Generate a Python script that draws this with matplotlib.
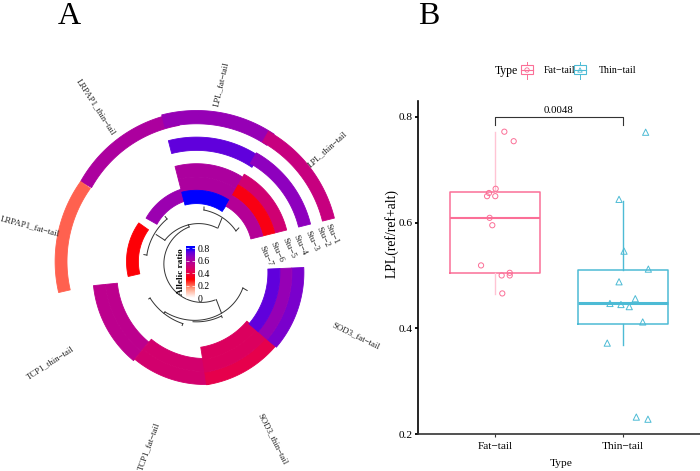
import numpy as np
import matplotlib
matplotlib.use("Agg")
import matplotlib.pyplot as plt
from matplotlib.colors import LinearSegmentedColormap
from matplotlib.patches import Rectangle

plt.rcParams["font.family"] = ["Liberation Serif", "DejaVu Serif"]

W, H = 700, 471

# panel A data
sectors = ["LPL_thin−tail", "LPL_fat−tail", "LRPAP1_thin−tail", "LRPAP1_fat−tail",
           "TCP1_thin−tail", "TCP1_fat−tail", "SOD3_thin−tail", "SOD3_fat−tail"]
tracks = ["Stu−1", "Stu−2", "Stu−3", "Stu−4", "Stu−5", "Stu−6", "Stu−7"]
nan = np.nan
stu1 = [0.53, 0.65, 0.60, 0.21, nan, nan, nan, nan]
stu2 = [nan, nan, nan, nan, nan, nan, nan, nan]
stu3 = [0.67, 0.74, nan, nan, 0.56, 0.49, 0.42, 0.70]
stu4 = [nan, nan, nan, nan, 0.56, 0.49, 0.46, 0.65]
stu5 = [0.50, 0.60, nan, nan, nan, nan, 0.46, 0.74]
stu6 = [0.33, 0.60, nan, nan, nan, nan, nan, nan]
stu7 = [0.58, 0.80, 0.64, 0.31, nan, nan, nan, nan]
ratio = np.array([stu1, stu2, stu3, stu4, stu5, stu6, stu7])

# the rings in the source are not concentric, so each sector keeps its own geometry
sector_theta0 = [14, 56, 100, 144.6, 185.8, 230.4, 279, 319.5]
sector_theta1 = [60.5, 104.5, 150.7, 193, 230.4, 272, 320, 362.5]
sector_cx = [200, 196, 200.5, 192.6, 204.4, 204.4, 188.4, 188.4]
sector_cy = [251, 249, 248.5, 261, 273.8, 274, 272, 272]
sector_rtop = [138, 139, 138, 138, 136, 136, 139, 139]
sector_w = [12.3, 13.3, 12.5, 11.9, 12, 13, 12.67, 12]
draw_order = [2, 1, 0, 3, 4, 5, 6, 7]

label_x = [328, 221, 96, 30, 50, 148.5, 272.5, 355.5]
label_y = [149, 84, 107, 226, 363, 446, 439, 336]
label_rot = [42, 77, -57, -15, 33, 70, -63, -26]
stu_x = [327, 318, 307, 295, 284, 272, 261]
stu_y = [224, 227, 231, 235, 238, 242, 246]

# dendrogram arcs: theta1, theta2, r1, r2
tree_arcs = [
    (110, 289, 40.5, 37),
    (69, 147, 39.6, 45.5),
    (110, 110, 40.5, 43),
    (46, 89, 47.4, 55),
    (68, 68, 40, 50.3),
    (89, 89, 55, 58),
    (46, 46, 47.4, 51.5),
    (147, 147, 45.5, 55.8),
    (128, 170, 58.4, 57),
    (170, 170, 57, 60),
    (128, 128, 58.4, 61.5),
    (291, 291, 37, 51.6),
    (231, 330, 60.4, 46),
    (330, 330, 46, 51),
    (212, 251, 62.4, 62),
    (212, 212, 62.4, 64),
    (251, 251, 62, 64),
    (231, 231, 60.4, 62),
    (260, 290, 57.6, 54.2),
    (290, 290, 54.2, 56),
]

# panel B data
fat_x = [1.073, 1.146, 0.953, 0.938, 1.005, 1.002, 0.958, 0.979, 0.891, 1.052, 1.115, 1.115, 1.057]
fat_y = [0.772, 0.754, 0.656, 0.650, 0.664, 0.650, 0.609, 0.595, 0.519, 0.500, 0.505, 0.500, 0.466]
thin_x = [2.177, 1.969, 2.008, 2.198, 1.969, 2.096, 1.898, 1.984, 2.049, 2.154, 1.877, 2.104, 2.195]
thin_y = [0.771, 0.644, 0.546, 0.512, 0.488, 0.456, 0.447, 0.445, 0.441, 0.412, 0.372, 0.232, 0.228]
fat_stats = dict(med=0.609, q1=0.505, q3=0.657, whislo=0.465, whishi=0.772, fliers=[])
thin_stats = dict(med=0.447, q1=0.408, q3=0.510, whislo=0.368, whishi=0.640, fliers=[])
categories = ["Fat−tail", "Thin−tail"]
y_ticks = [0.2, 0.4, 0.6, 0.8]
p_label = "0.0048"

PINK = "#FB6F97"
PINK_PALE = "#FFC4D4"
BLUE = "#4DBBD5"

cmap_stops = [
    (0.0, "#FFFFFF"), (0.15, "#FF9E81"), (0.3, "#FF0000"), (0.425, "#E5004F"),
    (0.55, "#C10088"), (0.675, "#8C00C0"), (0.75, "#5A00E0"), (0.8, "#0000FF"),
    (1.0, "#0000FF"),
]
ratio_cmap = LinearSegmentedColormap.from_list("ratio", cmap_stops)

fig = plt.figure(figsize=(W / 100, H / 100), dpi=100)
RMAX = 152


def polar_at(cx, cy):
    ax = fig.add_axes([(cx - RMAX) / W, (H - cy - RMAX) / H, 2 * RMAX / W, 2 * RMAX / H],
                      projection="polar")
    ax.axis("off")
    ax.patch.set_alpha(0)
    ax.set_autoscale_on(False)
    ax.set_xlim(0, 2 * np.pi)
    ax.set_ylim(0, RMAX)
    return ax


for j in draw_order:
    ax = polar_at(sector_cx[j], sector_cy[j])
    theta = np.radians(np.linspace(sector_theta0[j], sector_theta1[j], 80))
    for i in range(len(tracks)):
        if np.isnan(ratio[i, j]):
            continue
        bottom = sector_rtop[j] - (i + 1) * sector_w[j]
        col = ratio_cmap(ratio[i, j])
        ax.fill_between(theta, bottom, bottom + sector_w[j], color=col, edgecolor=col,
                        linewidth=0.6, clip_on=False)

tree_ax = polar_at(203, 265)
for t1, t2, r1, r2 in tree_arcs:
    tree_ax.plot(np.radians(np.linspace(t1, t2, 40)), np.linspace(r1, r2, 40),
                 color="#333333", lw=0.7)

# colour bar in the middle of the rings
cb = fig.add_axes([186 / W, (H - 298) / H, 9 / W, 52 / H])
grad = np.linspace(0, 0.84, 200).reshape(-1, 1)
cb.imshow(grad, origin="lower", aspect="auto", cmap=ratio_cmap, vmin=0, vmax=1.0,
          extent=[0, 1, 0, 0.84])
cb.set_xticks([])
cb.set_yticks([0, 0.2, 0.4, 0.6, 0.8])
cb.set_yticklabels(["0", "0.2", "0.4", "0.6", "0.8"], fontsize=7)
cb.tick_params(axis="y", left=True, right=True, labelleft=False, labelright=True,
               direction="in", length=2, width=0.5, color="white", pad=2)
for s in cb.spines.values():
    s.set_visible(False)
cb.set_ylabel("Allelic ratio", fontsize=6.7, fontweight="bold", labelpad=0.5)

# panel B
ax = fig.add_axes([418 / W, (H - 434) / H, 282 / W, 333 / H])
px_per_unit = 105.7 / 0.2
ax.set_xlim(1 - 77 / 128, 2 + 77 / 128)
ax.set_ylim(0.2, 0.2 + 333 / px_per_unit)

for pos, stats, col, mlw in [(1, fat_stats, PINK, 1.5), (2, thin_stats, BLUE, 2.2)]:
    parts = ax.bxp([stats], positions=[pos], widths=0.70, showcaps=False, showfliers=False,
                   boxprops=dict(color=col, lw=1.1), whiskerprops=dict(color=col, lw=1.0),
                   medianprops=dict(color=col, lw=mlw), manage_ticks=False)
    if pos == 1:
        for line in parts["whiskers"]:
            line.set_color(PINK_PALE)

ax.scatter(fat_x, fat_y, s=14, marker="o", facecolors="none", edgecolors=PINK, linewidths=0.7, zorder=3)
ax.scatter(thin_x, thin_y, s=20, marker="^", facecolors="none", edgecolors=BLUE, linewidths=0.7, zorder=3)

ax.plot([1, 1, 2, 2], [0.785, 0.8, 0.8, 0.785], color="#333333", lw=0.8)
ax.text(1.5, 0.803, p_label, ha="center", va="bottom", fontsize=7.8)

ax.set_xticks([1, 2])
ax.set_xticklabels(categories, fontsize=8.2)
ax.set_yticks(y_ticks)
ax.set_yticklabels([f"{v:.1f}" for v in y_ticks], fontsize=8.2)
ax.tick_params(axis="y", length=2.5, width=1.3, pad=1.5)
ax.tick_params(axis="x", length=2.5, width=0.8, color="#333333", pad=3)
ax.spines["top"].set_visible(False)
ax.spines["right"].set_visible(False)
ax.spines["left"].set_linewidth(1.2)
ax.spines["bottom"].set_linewidth(1.2)
ax.spines["bottom"].set_color("#333333")

# everything placed by pixel: labels, panel letters, legend
over = fig.add_axes([0, 0, 1, 1])
over.set_xlim(0, W)
over.set_ylim(H, 0)
over.axis("off")
over.patch.set_alpha(0)

for name, x, y, rot in zip(sectors, label_x, label_y, label_rot):
    over.text(x, y, name, rotation=rot, ha="center", va="center", fontsize=6.3,
              rotation_mode="anchor", color="#222222")
for name, x, y in zip(tracks, stu_x, stu_y):
    over.text(x, y, name, rotation=-65, ha="left", va="center", fontsize=6.6,
              rotation_mode="anchor", color="#222222")

over.text(69, 24, "A", fontsize=23, ha="center", va="baseline")
over.text(429, 24, "B", fontsize=23, ha="center", va="baseline")

over.text(392, 233, "LPL(ref/ref+alt)", rotation=90, ha="center", va="center", fontsize=9.8)
over.text(561, 463, "Type", ha="center", va="center", fontsize=8.2)

over.text(506.5, 71, "Type", ha="center", va="center", fontsize=8.5)
for x0, col, marker, label, tx in [(521, PINK, "o", categories[0], 544),
                                   (574, BLUE, "^", categories[1], 599)]:
    over.plot([x0 + 6, x0 + 6], [62, 79], color=col, lw=0.7)
    over.add_patch(Rectangle((x0, 65), 12, 9, facecolor="white", edgecolor=col, lw=0.8, zorder=3))
    over.plot([x0, x0 + 12], [70, 70], color=col, lw=0.8, zorder=4)
    over.scatter([x0 + 6], [70], s=10, marker=marker, facecolors="none", edgecolors=col,
                 linewidths=0.6, zorder=5)
    over.text(tx, 70.5, label, ha="left", va="center", fontsize=7.2)
over.set_xlim(0, W)
over.set_ylim(H, 0)

fig.savefig("out.png", dpi=100)
